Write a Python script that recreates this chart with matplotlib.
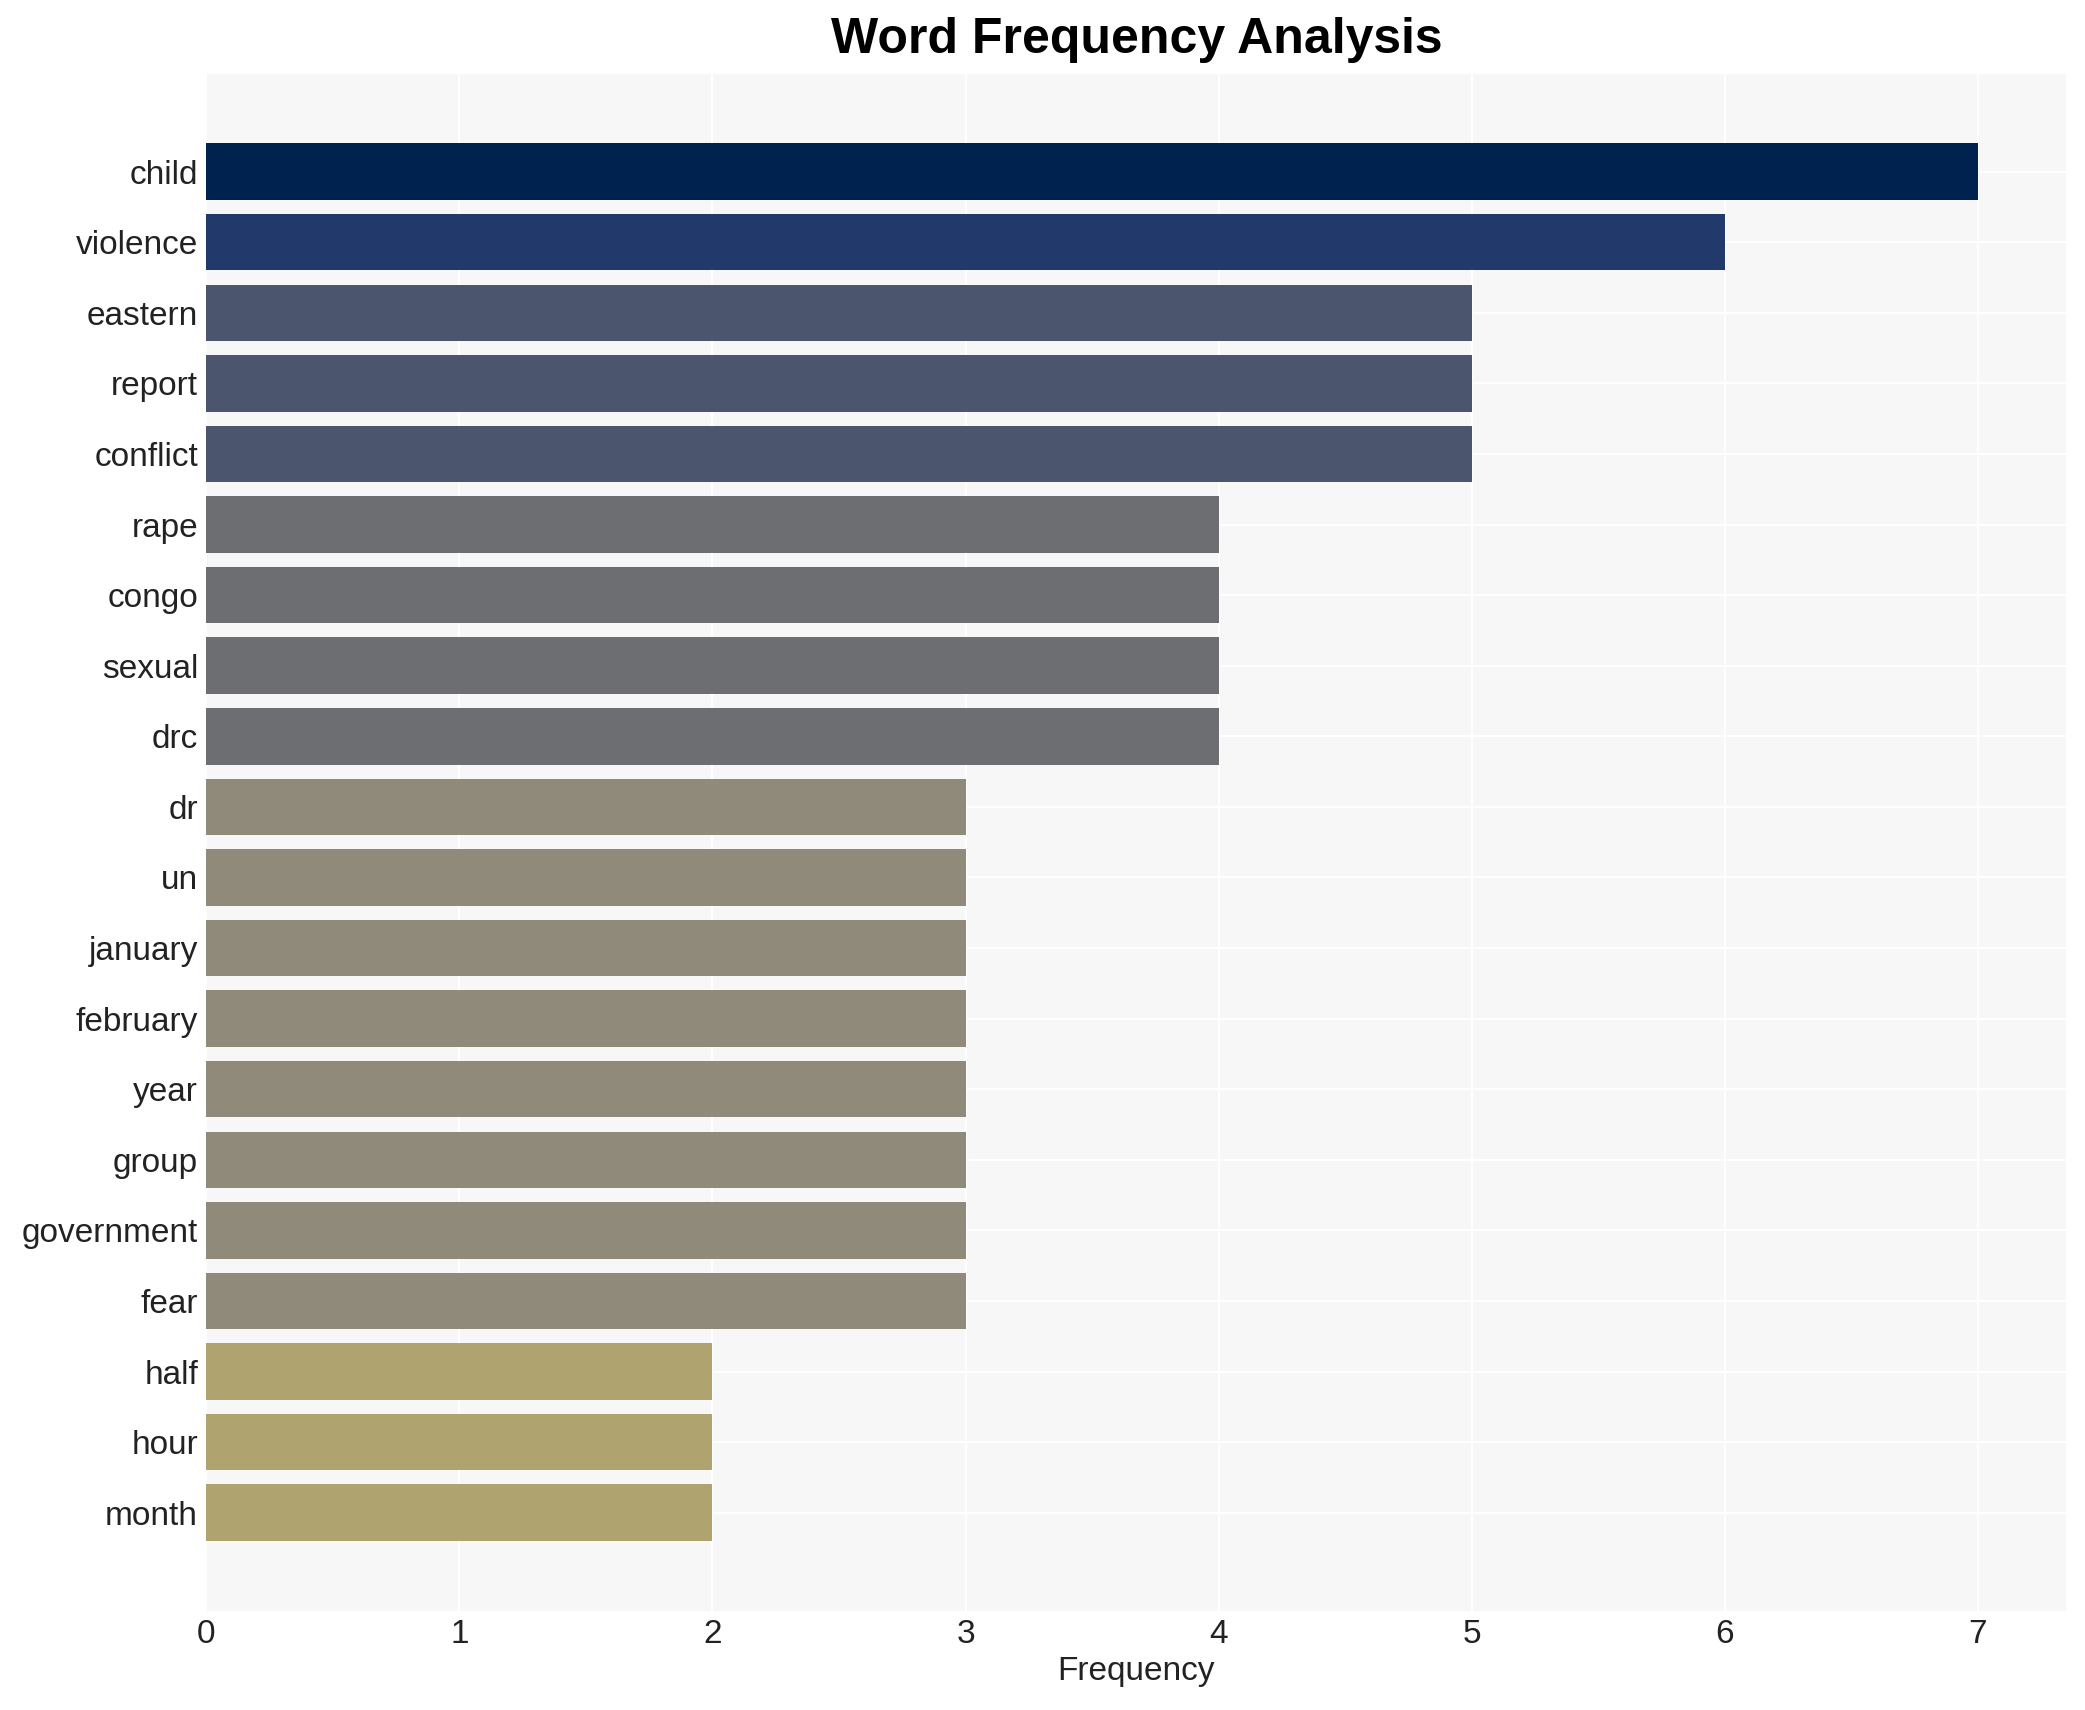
import matplotlib.pyplot as plt

plt.rcParams['font.family'] = ['Liberation Sans', 'DejaVu Sans']

# word counts, top to bottom
words = ['child', 'violence', 'eastern', 'report', 'conflict', 'rape', 'congo',
         'sexual', 'drc', 'dr', 'un', 'january', 'february', 'year', 'group',
         'government', 'fear', 'half', 'hour', 'month']
counts = [7, 6, 5, 5, 5, 4, 4, 4, 4, 3, 3, 3, 3, 3, 3, 3, 3, 2, 2, 2]

# one colour per frequency level
level_colors = {7: '#00224e', 6: '#223a6b', 5: '#4b556e',
                4: '#6d6e72', 3: '#8f8a79', 2: '#afa46f'}

fig, ax = plt.subplots(figsize=(13.9, 11.4), dpi=150)
fig.subplots_adjust(left=0.099, right=0.991, top=0.957, bottom=0.058)

ax.set_facecolor('#f7f7f7')
ax.barh(words, counts, height=0.8, color=[level_colors[c] for c in counts], zorder=2)
ax.invert_yaxis()

ax.grid(True, color='white', linewidth=1.0, zorder=0)
ax.set_axisbelow(True)
for s in ax.spines.values():
    s.set_visible(False)
ax.tick_params(axis='both', length=0, labelsize=16, colors='#222222', pad=4)

ax.set_xlabel('Frequency', fontsize=16, color='#222222', labelpad=3)
ax.set_title('Word Frequency Analysis', fontsize=24, fontweight='bold', pad=10)

fig.savefig('out.png', dpi=150)
